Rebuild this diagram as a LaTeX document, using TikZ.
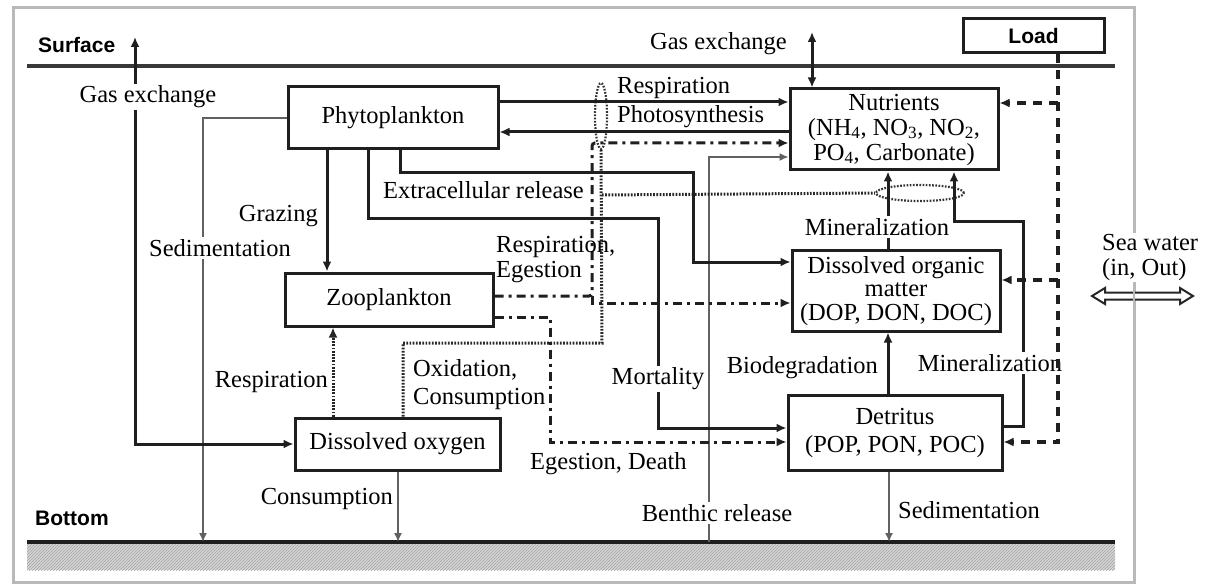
\documentclass[tikz,border=0pt]{standalone}
\usepackage{fontspec}
\setmainfont{Liberation Serif}
\newfontfamily\labsans{Liberation Sans}
\usetikzlibrary{arrows.meta,shapes.geometric,patterns,calc}
\begin{document}
\begin{tikzpicture}[x=1pt,y=-1pt,
  >={Latex[length=10pt,width=9pt]},
  txt/.style={font=\fontsize{24.5}{25}\selectfont, inner sep=1pt},
  wtxt/.style={txt, fill=white, inner sep=2pt},
  box/.style={draw=black!88, line width=3pt, fill=white, inner sep=0pt, font=\fontsize{24.5}{25}\selectfont, align=center},
  sans/.style={font=\labsans\bfseries\fontsize{21}{24}\selectfont, inner sep=1pt},
  solidln/.style={line width=3pt, draw=black!88},
  thinln/.style={line width=1.5pt, draw=black!62, >={Latex[length=9pt,width=8pt]}},
  dotln/.style={line width=3pt, draw=black!85, dash pattern=on 1.7pt off 1.5pt},
  ddln/.style={line width=3pt, draw=black!88, dash pattern=on 9pt off 5pt on 3pt off 5pt},
  dashln/.style={line width=3.3pt, draw=black!88, dash pattern=on 9pt off 7pt},
  ring/.style={ellipse, draw=black!80, line width=2.2pt, dash pattern=on 1.7pt off 1.5pt, inner sep=0pt},
]
\useasboundingbox (0,0) rectangle (1217,585);
% frame
\draw[gray!55, line width=3pt] (13,8) rectangle (1134,582);
% sea water arrow (under frame line)
\draw[line width=2pt, draw=black!85, fill=white] (1092,296) -- (1105,288) -- (1105,292.5) -- (1180,292.5) -- (1180,288) -- (1193,296) -- (1180,304) -- (1180,299.5) -- (1105,299.5) -- (1105,304) -- cycle;
\draw[gray!55, line width=1.2pt] (1134,230) -- (1134,330);
% surface and bottom
\draw[black!78, line width=3.2pt] (27,66) -- (1115,66);
\fill[gray!32] (27,542) rectangle (1115,570);
\fill[pattern=north east lines, pattern color=gray!72] (27,542) rectangle (1115,570);
\draw[black!88, line width=3.2pt] (27,542) -- (1115,542);
\node[sans, anchor=west] (surf) at (37,45) {Surface};
\node[sans, anchor=west] (bot) at (34,518) {Bottom};

% boxes
\node[box, minimum width=210pt, minimum height=62pt] (phyto) at (393,118) {Phytoplankton};
\node[box, minimum width=208pt, minimum height=53pt] (zoo) at (389,299.5) {Zooplankton};
\node[box, minimum width=205pt, minimum height=52pt] (do) at (397.5,444) {Dissolved oxygen};
\node[box, minimum width=208pt, minimum height=81pt] (nut) at (894,129.5) {Nutrients\\(NH\textsubscript{4}, NO\textsubscript{3}, NO\textsubscript{2},\\PO\textsubscript{4}, Carbonate)};
\node[box, minimum width=208pt, minimum height=80pt, font=\fontsize{24.5}{23.5}\selectfont] (dom) at (896,291) {Dissolved organic\\matter\\(DOP, DON, DOC)};
\node[box, minimum width=214pt, minimum height=75pt, font=\fontsize{24.5}{28}\selectfont] (det) at (895,432.5) {Detritus\\(POP, PON, POC)};
\node[box, sans, minimum width=141pt, minimum height=34pt] (load) at (1033.5,36) {Load};

% ellipses
\node[ring, minimum width=12pt, minimum height=66pt] (el1) at (601,116) {};
\node[ring, minimum width=88pt, minimum height=16pt] (el2) at (920,193) {};

% helper coordinates
\coordinate (gasTop) at (135,37);
\coordinate (gas2) at (812,32);
\coordinate (sedP) at (203,542);
\coordinate (conD) at (398,542);
\coordinate (sedD) at (889,542);
\coordinate (benth) at (709,542);
\coordinate (b1) at (709,157);
\coordinate (gz) at (327,0);
\coordinate (rz) at (333,0);
\coordinate (r1) at (600,102);
\coordinate (p1) at (600,132);
\coordinate (m1) at (368,219);
\coordinate (m2) at (658,428);
\coordinate (e1) at (400,173);
\coordinate (e2) at (693,262);
\coordinate (z1) at (592,296);
\coordinate (z2) at (592,143);
\coordinate (z3) at (592,303);
\coordinate (z4) at (550,317);
\coordinate (eg) at (550,442);
\coordinate (o1) at (403,343);
\coordinate (o2) at (602,343);
\coordinate (o3) at (602,195);
\coordinate (mn) at (888,0);
\coordinate (d1) at (1023,426);
\coordinate (d2) at (954,222);
\coordinate (l1) at (1058,442);
\coordinate (l2) at (1058,103);
\coordinate (l3) at (1058,280);

% thin gray connectors
\draw[thinln,->] (phyto.west) -| (sedP);
\draw[thinln,->] (do.south -| conD) -- (conD);
\draw[thinln,->] (det.south -| sedD) -- (sedD);
\draw[thinln,->] (benth) -- (b1) -- (nut.west |- b1);

% dotted
\draw[dotln,->] (do.north -| rz) -- (zoo.south -| rz);
\draw[dotln] (do.north -| o1) -- (o1) -- (o2) -- (el1.south);
\draw[dotln] (o3) -- (el2.west);

% solid connectors
\draw[solidln,<->] (gasTop) |- (do.west);
\draw[solidln,<->] (gas2) -- (nut.north -| gas2);
\draw[solidln,->] (phyto.east |- r1) -- (nut.west |- r1);
\draw[solidln,->] (nut.west |- p1) -- (phyto.east |- p1);
\draw[solidln,->] (phyto.south -| gz) -- (zoo.north -| gz);
\draw[solidln,->] (phyto.south -| m1) -- (m1) -| (m2) -- (det.west |- m2);
\draw[solidln,->] (phyto.south -| e1) -- (e1) -| (e2) -- (dom.west |- e2);
\draw[solidln,->] (dom.north -| mn) -- (nut.south -| mn);
\draw[solidln,->] (det.north -| mn) -- (dom.south -| mn);
\draw[solidln,->] (det.east |- d1) -- (d1) |- (d2) -- (nut.south -| d2);

% dash-dot
\draw[ddln,->,rounded corners=3pt] (zoo.east |- z1) -- (z1) -- (z2) -- (nut.west |- z2);
\draw[ddln,->] (z1) -- (z3) -- (dom.west |- z3);
\draw[ddln,->] (zoo.east |- z4) -- (z4) -- (eg) -- (det.west |- eg);

% labels
\node[wtxt] (lgas1) at (148,97) {Gas exchange};
\node[txt, anchor=east] (lgas2) at (788,44) {Gas exchange};
\node[wtxt] (lsed1) at (220,248) {Sedimentation};
\node[txt, anchor=east] (lgraz) at (319,216) {Grazing};
\node[txt, anchor=west] (lresp) at (616,88) {Respiration};
\node[txt, anchor=west] (lphot) at (616,117) {Photosynthesis};
\node[txt, anchor=east] (lext) at (585,190) {Extracellular release};
\node[txt, anchor=north west, align=left] (lrespeg) at (495,235) {Respiration,\\Egestion};
\node[txt, anchor=north west, align=left, font=\fontsize{24.5}{28}\selectfont] (lox) at (412,358) {Oxidation,\\Consumption};
\node[txt, anchor=east] (lresp2) at (329,382) {Respiration};
\node[wtxt] (lmort) at (658,379) {Mortality};
\node[txt, anchor=west] (legd) at (529,464) {Egestion, Death};
\node[txt, anchor=east] (lcons) at (394,499) {Consumption};
\node[wtxt] (lben) at (717,513) {Benthic release};
\node[txt, anchor=east] (lbio) at (879,368) {Biodegradation};
\node[wtxt] (lmin1) at (877,227) {Mineralization};
\node[wtxt] (lmin2) at (990,363) {Mineralization};
\node[txt, anchor=west] (lsed2) at (897,510) {Sedimentation};
\node[txt, anchor=north west, align=left, fill=white] (lsea) at (1101,233) {Sea water\\(in, Out)};

% load dashed
\draw[dashln,->] (load.south -| l1) -- (l1) -- (det.east |- l1);
\draw[dashln,->] (l2) -- (nut.east |- l2);
\draw[dashln,->] (l3) -- (dom.east |- l3);
\end{tikzpicture}
\end{document}
